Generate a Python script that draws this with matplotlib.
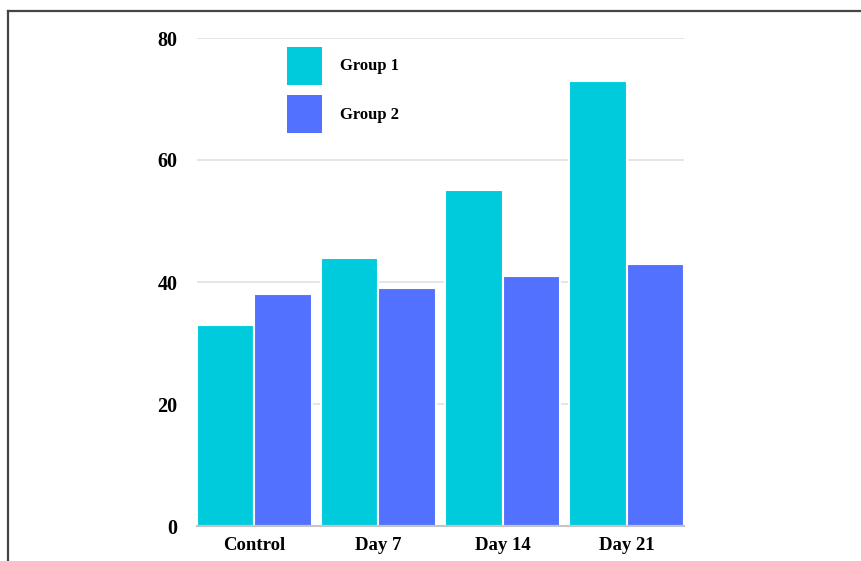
import matplotlib
matplotlib.use("Agg")
import matplotlib.pyplot as plt
import numpy as np
from matplotlib.lines import Line2D
from matplotlib.patches import Patch

categories = ["Control", "Day 7", "Day 14", "Day 21"]
group1 = [33, 44, 55, 73]
group2 = [38, 39, 41, 43]
series_names = ["Group 1", "Group 2"]
y_ticks = [0, 20, 40, 60, 80]

c1 = "#00CBDC"
c2 = "#5271FF"
font = ["Liberation Serif", "DejaVu Serif"]

fig = plt.figure(figsize=(8.61, 5.61), dpi=100)
ax = fig.add_axes([197 / 861, 35 / 561, 487 / 861, 488 / 561])

x = np.arange(len(categories))
w = 0.4637
ax.bar(x - w / 2, group1, width=w, color=c1, edgecolor="white", linewidth=1.5, zorder=3)
ax.bar(x + w / 2, group2, width=w, color=c2, edgecolor="white", linewidth=1.5, zorder=3)

ax.set_xlim(-w, len(categories) - 1 + w)
ax.set_ylim(0, 80)
ax.set_yticks(y_ticks)
ax.set_yticklabels([str(t) for t in y_ticks], fontfamily=font, fontweight="bold", fontsize=14.5)
ax.tick_params(axis="y", length=0, pad=14)
ax.set_xticks(x)
ax.set_xticklabels(categories, fontfamily=font, fontweight="bold", fontsize=13.5)
ax.tick_params(axis="x", length=0, pad=8)
ax.grid(axis="y", color="#e0e0e0", linewidth=1.2, zorder=0)
for s in ["top", "right", "left"]:
    ax.spines[s].set_visible(False)
ax.spines["bottom"].set_color("#c4c4c4")
ax.spines["bottom"].set_linewidth(1.5)
ax.spines["bottom"].set_zorder(4)

handles = [Patch(facecolor=c1, edgecolor="none"), Patch(facecolor=c2, edgecolor="none")]
leg = ax.legend(handles, series_names, loc="upper left", bbox_to_anchor=(0.155, 1.013),
                frameon=False, prop={"family": font, "weight": "bold", "size": 12},
                handlelength=2.07, handleheight=3.12, handletextpad=1.1, labelspacing=0.62)

# outer frame
fig.add_artist(Line2D([8 / 861, 1], [1 - 11 / 561, 1 - 11 / 561], color="#454545", linewidth=1.6, transform=fig.transFigure))
fig.add_artist(Line2D([8 / 861, 8 / 861], [0, 1 - 11 / 561], color="#454545", linewidth=1.6, transform=fig.transFigure))

fig.savefig("out.png", dpi=100)
